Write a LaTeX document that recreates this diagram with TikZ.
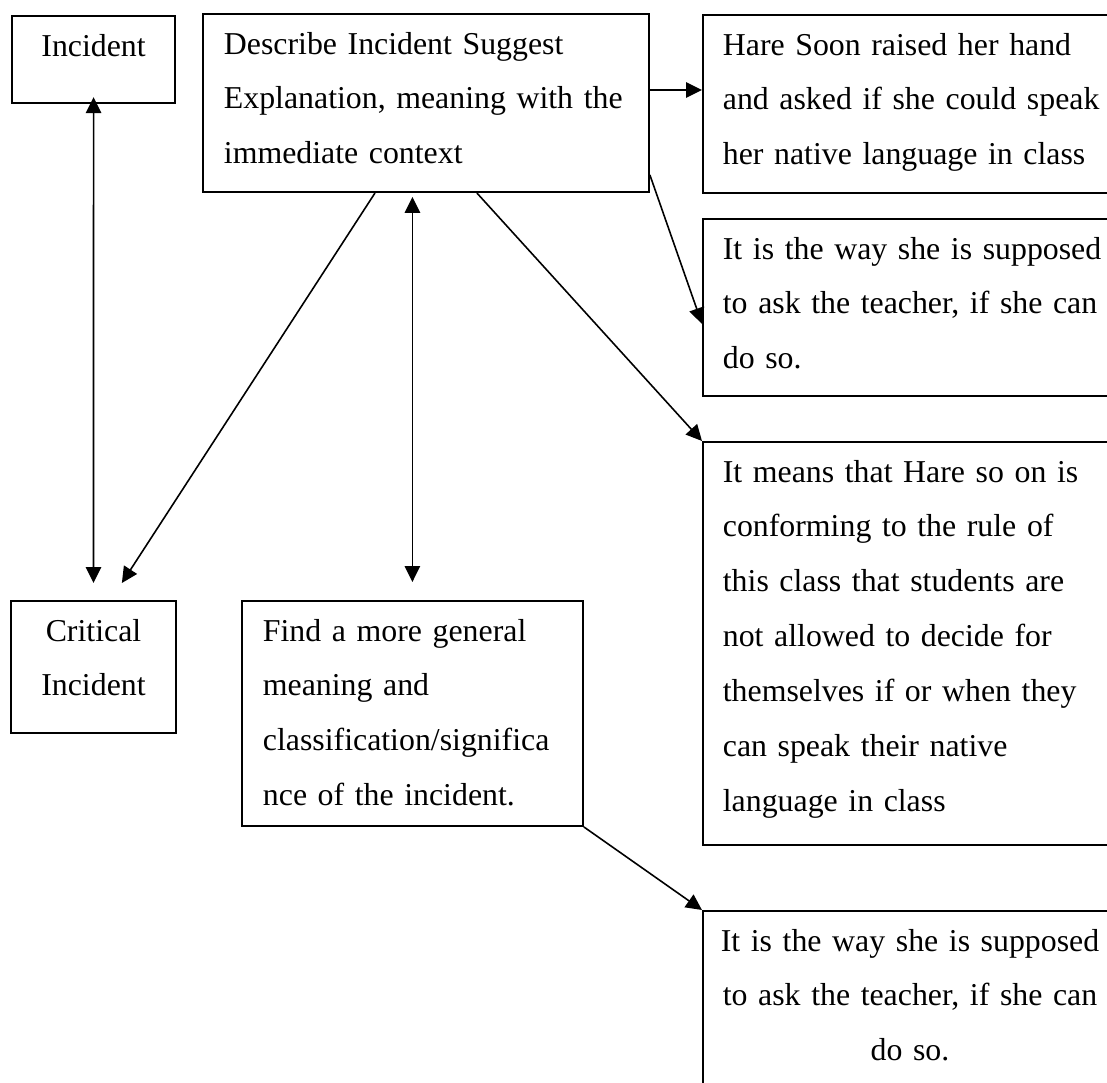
\documentclass[tikz,border=0pt]{standalone}
\usepackage{fontspec}
\setmainfont{Liberation Serif}
\usetikzlibrary{arrows.meta}
\newcommand\boxfont{\fontsize{12}{20.7}\selectfont\spaceskip 2.3pt plus 1pt minus 0.5pt\relax}
\tikzset{
    box/.style={draw, line width=0.75pt, anchor=north west, inner ysep=0pt, text height=15.1pt, font=\boxfont},
    link/.style={line width=0.6pt, -{Triangle[length=6pt,width=5.8pt]}},
    both/.style={line width=0.6pt, {Triangle[length=6pt,width=5.8pt]}-{Triangle[length=6pt,width=5.8pt]}},
}
\begin{document}
\begin{tikzpicture}[x=0.377pt, y=-0.377pt]
    \useasboundingbox (0,0) rectangle (1107,1083);
    \clip (0,0) rectangle (1107,1083);
    \node[box, inner xsep=0pt, text width=61.5pt, align=center, text depth=17.7pt] (inc) at (11,15) {Incident};
    \node[box, inner xsep=7.9pt, text width=152.3pt, align=left, text depth=52pt] (desc) at (202,13)
        {Describe Incident Suggest\\ Explanation, meaning with the\\ immediate context};
    \node[box, inner xsep=7.5pt, text width=150.8pt, align=left, text depth=52pt] (hare) at (702,14)
        {Hare Soon raised her hand\\ and asked if she could speak\\ her native language in class};
    \node[box, inner xsep=7.5pt, text width=150.8pt, align=left, text depth=51.6pt] (way) at (702,218)
        {It is the way she is supposed\\ to ask the teacher, if she can\\ do so.};
    \node[box, inner xsep=7.5pt, text width=150.8pt, align=left, text depth=136.9pt] (means) at (702,441)
        {It means that Hare so on is\\ conforming to the rule of\\ this class that students are\\ not allowed to decide for\\
         themselves if or when they\\ can speak their native\\ language in class};
    \node[box, inner xsep=0pt, text width=62.2pt, align=center, text depth=34.7pt] (crit) at (10,600) {Critical\\ Incident};
    \node[box, inner xsep=7.9pt, text width=112.7pt, align=left, text depth=69.7pt] (find) at (241,600)
        {Find a more general\\ meaning and\\ classification/significa\\ nce of the incident.};
    \node[box, inner xsep=1.9pt, text width=152.3pt, align=center, text depth=75.4pt] (way2) at (702,910)
        {It is the way she is supposed\\ to ask the teacher, if she can\\ do so.};
    \draw[both, shorten <=-2.6pt] (inc.south) -- ([yshift=6.4pt]crit.north);
    \draw[link] ([xshift=-19.2pt]desc.south) -- ([xshift=10.7pt, yshift=6.4pt]crit.north);
    \draw[both, shorten <=1.5pt] (desc.south -| find.north) -- ([yshift=6.8pt]find.north);
    \draw[link] ([xshift=19.2pt]desc.south) -- (means.north west);
    \draw[link] ([yshift=4.9pt]desc.east) -- ([yshift=4.9pt]desc.east -| hare.west);
    \draw[link] ([yshift=6.8pt]desc.south east) -- ([yshift=-6.2pt]way.west);
    \draw[link] (find.south east) -- (way2.north west);
\end{tikzpicture}
\end{document}
